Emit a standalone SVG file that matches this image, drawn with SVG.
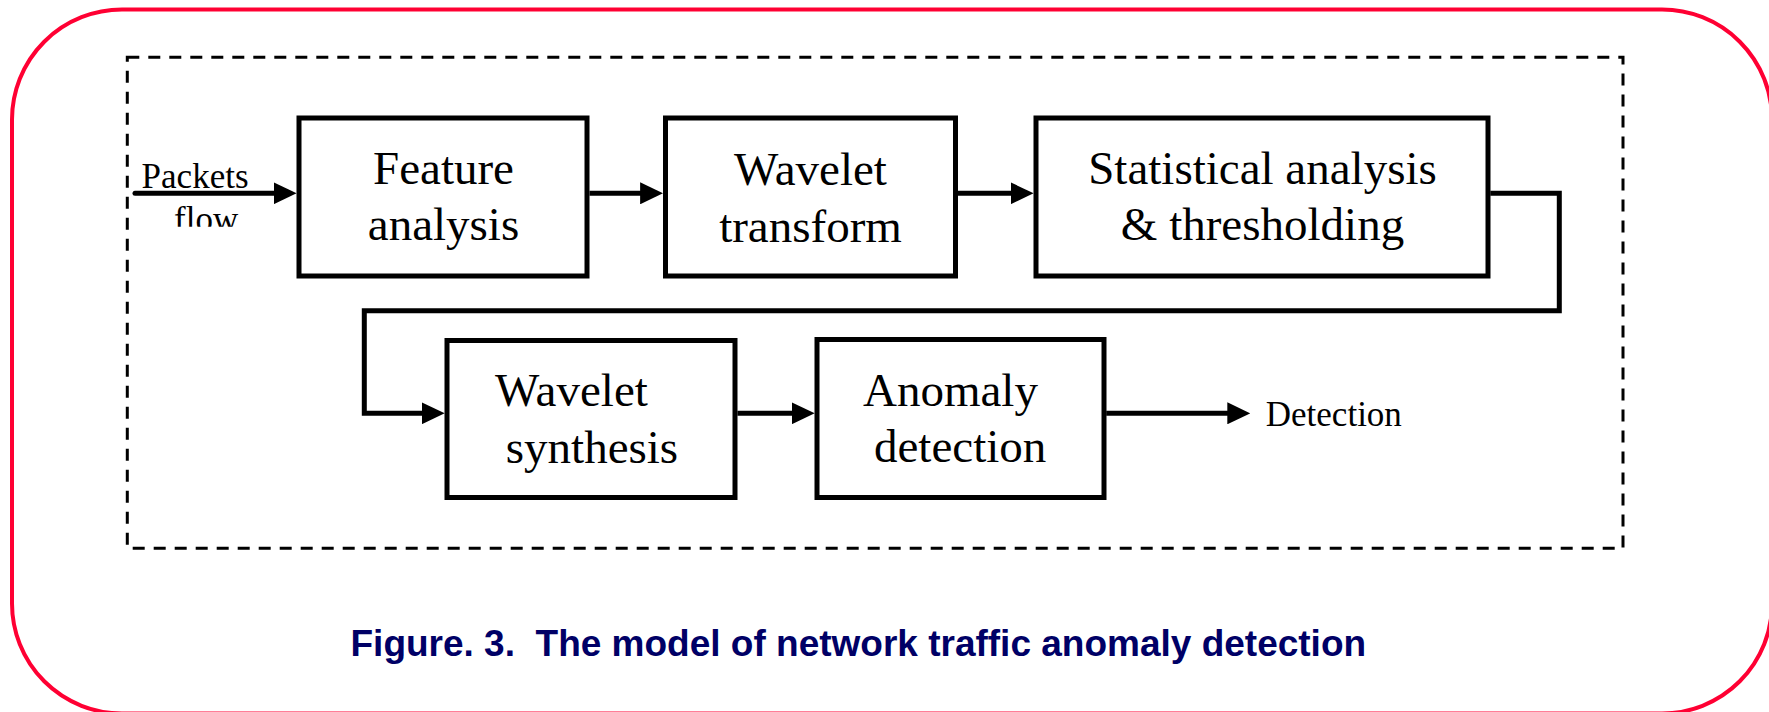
<svg xmlns="http://www.w3.org/2000/svg" width="1769" height="712" viewBox="0 0 1769 712">
  <style>
    .box { fill: #ffffff; stroke: #000000; stroke-width: 5; }
    .lbl { font-family: "Liberation Serif", "Times New Roman", serif; font-size: 47px; fill: #000000; }
    .lbl-c { text-anchor: middle; }
    .small { font-family: "Liberation Serif", "Times New Roman", serif; font-size: 35px; fill: #000000; }
    .wire { fill: none; stroke: #000000; stroke-width: 5; stroke-linejoin: miter; marker-end: url(#arrow); }
    .caption { font-family: "Liberation Sans", Arial, sans-serif; font-weight: bold; font-size: 37px; fill: #000066; white-space: pre; }
  </style>
  <defs>
    <marker id="arrow" viewBox="0 0 23 22" refX="11" refY="11" markerWidth="23" markerHeight="22" markerUnits="userSpaceOnUse" orient="auto">
      <path d="M0,0 L23,11 L0,22 Z" fill="#000000"/>
    </marker>
    <clipPath id="flowClip">
      <rect x="120" y="195" width="160" height="31.7"/>
    </clipPath>
  </defs>

  <rect width="1769" height="712" fill="#ffffff"/>

  <!-- outer rounded frame -->
  <rect x="12" y="9.5" width="1760" height="704" rx="110" ry="110" fill="none" stroke="#ff0033" stroke-width="4"/>

  <!-- dashed system boundary -->
  <rect x="127.3" y="57.3" width="1495.7" height="491" fill="none" stroke="#000000" stroke-width="3" stroke-dasharray="12 9"/>

  <!-- connectors -->
  <g id="connectors">
    <path class="wire" d="M135,193.3 H284.6" stroke-linecap="round"/>
    <path class="wire" d="M589.5,193.3 H651.1"/>
    <path class="wire" d="M958,193.3 H1021.6"/>
    <path class="wire" d="M1490.3,193.3 H1559.3 V310.7 H364.3 V413.3 H432.7"/>
    <path class="wire" d="M737.4,413.3 H802.7"/>
    <path class="wire" d="M1106.2,413.3 H1238.3"/>
  </g>

  <!-- input label -->
  <g id="input-label">
    <text class="small" x="141.6" y="188">Packets</text>
    <text class="small" x="174" y="231" clip-path="url(#flowClip)">flow</text>
  </g>

  <g id="feature-analysis">
    <rect class="box" x="299" y="118" width="288" height="158"/>
    <text class="lbl lbl-c" x="443.5" y="183.5">Feature</text>
    <text class="lbl lbl-c" x="443.5" y="240">analysis</text>
  </g>

  <g id="wavelet-transform">
    <rect class="box" x="665.5" y="118" width="290" height="158"/>
    <text class="lbl lbl-c" x="810.5" y="184.5">Wavelet</text>
    <text class="lbl lbl-c" x="810.5" y="241.5">transform</text>
  </g>

  <g id="statistical-analysis">
    <rect class="box" x="1036" y="118" width="452" height="158"/>
    <text class="lbl lbl-c" x="1262.5" y="183.5">Statistical analysis</text>
    <text class="lbl lbl-c" x="1262.5" y="240">&amp; thresholding</text>
  </g>

  <g id="wavelet-synthesis">
    <rect class="box" x="447" y="340.5" width="288" height="157"/>
    <text class="lbl" x="495" y="406">Wavelet</text>
    <text class="lbl lbl-c" x="592" y="462.5">synthesis</text>
  </g>

  <g id="anomaly-detection">
    <rect class="box" x="817" y="339.5" width="287" height="158"/>
    <text class="lbl" x="863" y="406">Anomaly</text>
    <text class="lbl" x="874" y="461.7">detection</text>
  </g>

  <g id="output-label">
    <text class="small" x="1265.8" y="425.7">Detection</text>
  </g>

  <text class="caption" x="350.5" y="656" xml:space="preserve">Figure. 3.  The model of network traffic anomaly detection</text>
</svg>
